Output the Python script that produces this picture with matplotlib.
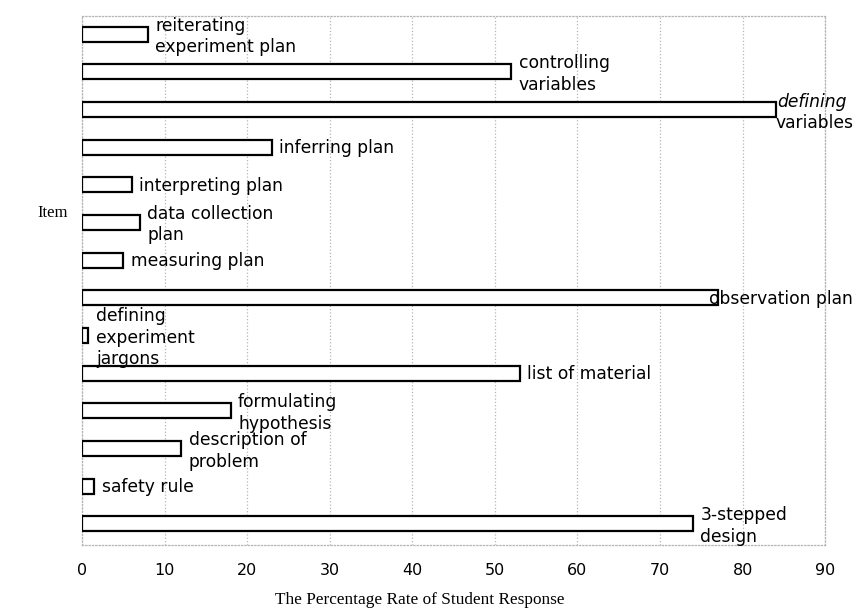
import matplotlib
matplotlib.use("Agg")

import matplotlib.pyplot as plt
import numpy as np

# ── data, top to bottom as drawn ─────────────────────────────────────────────
items = [
    "reiterating\nexperiment plan",
    "controlling\nvariables",
    "defining\nvariables",
    "inferring plan",
    "interpreting plan",
    "data collection\nplan",
    "measuring plan",
    "observation plan",
    "defining\nexperiment\njargons",
    "list of material",
    "formulating\nhypothesis",
    "description of\nproblem",
    "safety rule",
    "3-stepped\ndesign",
]
rates = [8, 52, 84, 23, 6, 7, 5, 77, 0.7, 53, 18, 12, 1.5, 74]
x_ticks = [0, 10, 20, 30, 40, 50, 60, 70, 80, 90]

GRID_COLOR = "#b5b5b5"
LABEL_FS = 12.3

fig = plt.figure(figsize=(8.56, 6.08), dpi=100)
ax = fig.add_axes([0.0958, 0.1036, 0.8682, 0.8701])

y = np.arange(len(items))
ax.barh(y, rates, height=0.4, color="white", edgecolor="black",
        linewidth=1.6, zorder=3)

# bar labels
for i, (name, val) in enumerate(zip(items, rates)):
    if name == "defining\nvariables":
        first, second = name.split("\n")
        ax.text(val + 0.15, i - 0.2, first, ha="left", va="center",
                fontsize=LABEL_FS, style="italic", zorder=4)
        ax.text(val + 0.0, i + 0.37, second, ha="left", va="center",
                fontsize=LABEL_FS, zorder=4)
        continue
    if name == "observation plan":
        xpos = val - 1.1
    elif name.startswith("defining\nexperiment"):
        xpos = val + 1.0
    else:
        xpos = val + 0.9
    dy = 0.06 if "\n" in name else 0.03
    ax.text(xpos, i + dy, name, ha="left", va="center", fontsize=LABEL_FS,
            linespacing=1.25, zorder=4)

ax.set_xlim(0, 90)
ax.set_ylim(len(items) - 1 + 0.56, -0.48)
ax.set_xticks(x_ticks)
ax.set_yticks([])
ax.tick_params(axis="x", length=0, pad=13, labelsize=11.5)

ax.grid(axis="x", color=GRID_COLOR, linestyle=":", linewidth=0.9, zorder=0)
for sp in ax.spines.values():
    sp.set_color(GRID_COLOR)
    sp.set_linestyle(":")
    sp.set_linewidth(0.9)

fig.text(420 / 856, 8 / 608, "The Percentage Rate of Student Response",
         ha="center", va="center", fontsize=12.4, family="Liberation Serif")
fig.text(53 / 856, 1 - 213 / 608, "Item", ha="center", va="center",
         fontsize=12, family="Liberation Serif")

fig.savefig("out.png", dpi=100)
